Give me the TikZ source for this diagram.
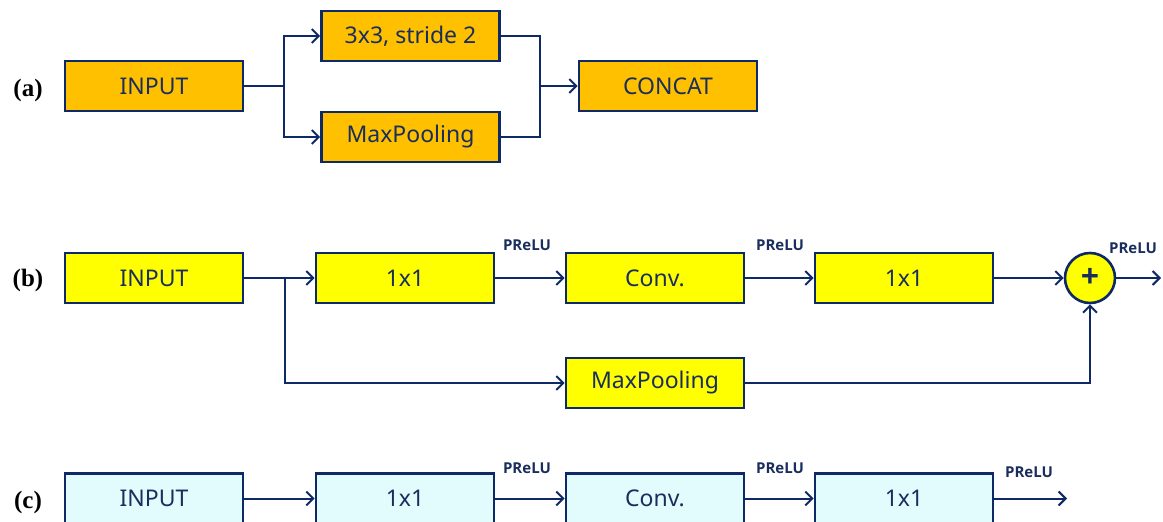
\documentclass[tikz,border=0pt]{standalone}
\usepackage{fontspec}
\setmainfont{Noto Sans}
\newfontfamily\lblfont{Liberation Serif}
\newfontfamily\actfont{Open Sans}
\usetikzlibrary{arrows.meta}
\definecolor{navy}{HTML}{0E2A66}
\definecolor{txt}{HTML}{1A2E5E}
\definecolor{orng}{HTML}{FFC000}
\definecolor{yel}{HTML}{FFFF00}
\definecolor{cyanl}{HTML}{E2FBFD}
\tikzset{
  blk/.style={draw=navy, line width=2.6pt, minimum width=178pt, minimum height=50pt, inner sep=0pt,
    font=\fontsize{23}{27}\selectfont, text=txt},
  ablk/.style={blk, fill=orng},
  bblk/.style={blk, fill=yel},
  cblk/.style={blk, fill=cyanl},
  conn/.style={draw=navy, line width=2pt},
  arr/.style={conn, -{Straight Barb[length=7pt,width=14pt,line width=2pt]}},
  act/.style={font=\actfont\bfseries\fontsize{15}{17}\selectfont, text=txt, inner sep=0pt},
  tag/.style={font=\lblfont\bfseries\fontsize{25}{28}\selectfont, inner sep=0pt},
}
\begin{document}
\begin{tikzpicture}[x=1pt,y=-1pt]
\useasboundingbox (0,0) rectangle (1163,522);
\clip (0,0) rectangle (1163,522);
% row (a)
\node[tag] (ta) at (28,90) {(a)};
\node[ablk] (ina) at (154,86) {INPUT};
\node[ablk] (s2) at (410.5,36) {3x3, stride 2};
\node[ablk] (mpa) at (410.5,137) {MaxPooling};
\node[ablk] (cat) at (668,86) {CONCAT};
\coordinate (ba) at (284,86);
\coordinate (ma) at (540,86);
\draw[conn] (ina.east) -- (ba);
\draw[arr] (ba) |- (s2.west);
\draw[arr] (ba) |- (mpa.west);
\draw[conn] (s2.east) -| (ma);
\draw[conn] (mpa.east) -| (ma);
\draw[arr] (ma) -- (cat.west);
% row (b)
\node[tag] (tb) at (28,280) {(b)};
\node[bblk] (inb) at (154,278) {INPUT};
\node[bblk] (b1) at (405,278) {1x1};
\node[bblk] (bc) at (655,278) {Conv.};
\node[bblk] (b3) at (904,278) {1x1};
\node[bblk] (mpb) at (655,383) {MaxPooling};
\node[circle, draw=navy, line width=2.6pt, fill=yel, minimum size=50pt, inner sep=0pt,
  font=\actfont\bfseries\fontsize{32}{32}\selectfont, text=txt] (plus) at (1090,278) {+};
\coordinate (bb) at (285,278);
\coordinate (ob) at (1161,278);
\draw[conn] (inb.east) -- (bb);
\draw[arr] (bb) -- (b1.west);
\draw[arr] (bb) |- (mpb.west);
\draw[arr] (b1.east) -- (bc.west);
\draw[arr] (bc.east) -- (b3.west);
\draw[arr] (b3.east) -- (plus.west);
\draw[arr] (mpb.east) -| (plus.south);
\draw[arr] (plus.east) -- (ob);
\node[act] (pb1) at (527,245) {PReLU};
\node[act] (pb2) at (780,245) {PReLU};
\node[act] (pb3) at (1133,248) {PReLU};
% row (c)
\node[tag] (tc) at (28,502) {(c)};
\node[cblk] (inc) at (154,498.5) {INPUT};
\node[cblk] (c1) at (405,498.5) {1x1};
\node[cblk] (cc) at (655,498.5) {Conv.};
\node[cblk] (c3) at (904,498.5) {1x1};
\coordinate (oc) at (1067,498.5);
\draw[arr] (inc.east) -- (c1.west);
\draw[arr] (c1.east) -- (cc.west);
\draw[arr] (cc.east) -- (c3.west);
\draw[arr] (c3.east) -- (oc);
\node[act] (pc1) at (527,468) {PReLU};
\node[act] (pc2) at (780,468) {PReLU};
\node[act] (pc3) at (1029,472) {PReLU};
\end{tikzpicture}
\end{document}
